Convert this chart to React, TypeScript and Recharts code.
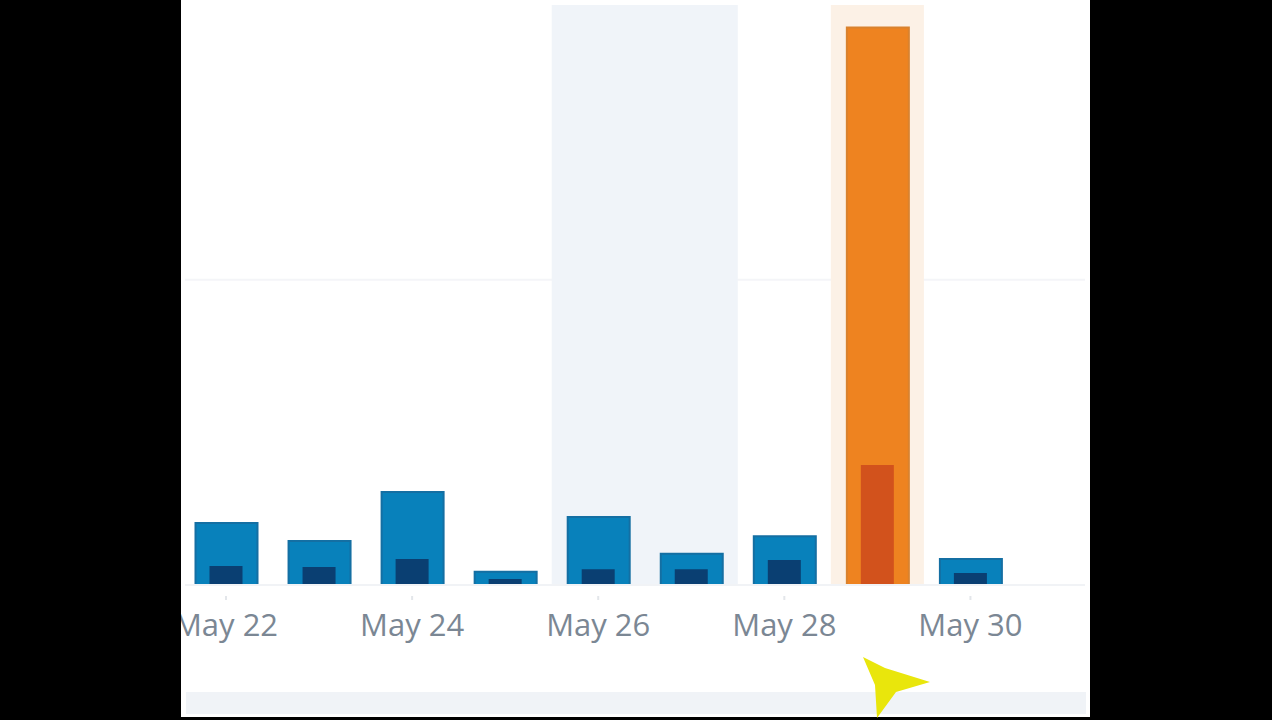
import { BarChart, Bar, Cell, CartesianGrid, ReferenceArea, XAxis, YAxis } from 'recharts'

const days = ['May 22', 'May 23', 'May 24', 'May 25', 'May 26', 'May 27', 'May 28', 'May 29', 'May 30', 'May 31']
const views = [20.3, 14.4, 30.5, 4.3, 22.3, 10.2, 16, 182.6, 8.5, null]
const visitors = [6.2, 5.9, 8.5, 2, 5.2, 5.2, 8.2, 39.3, 3.9, null]
const yTicks = [0, 100]

const rows = days.map((day, i) => ({ day, views: views[i], visitors: visitors[i] }))

const hotDay = 'May 29'

function DayTick({ x, y, payload }: any) {
  return (
    <g>
      <line x1={x} x2={x} y1={y + 3} y2={y + 7} stroke="#e3e6ea" strokeWidth={2} />
      <text
        x={x}
        y={y + 43}
        textAnchor="middle"
        fontFamily="'Open Sans', sans-serif"
        fontSize={31}
        fontWeight={500}
        fill="#7b8794"
      >
        {payload.value}
      </text>
    </g>
  )
}

export default function App() {
  return (
    <div style={{ position: 'absolute', left: 0, top: 0, width: 1272, height: 720, background: '#000', overflow: 'hidden' }}>
      <div style={{ position: 'absolute', left: 181, top: 0, width: 909, height: 717, background: '#fff', overflow: 'hidden' }}>
        <div style={{ position: 'absolute', left: 5, top: 692, width: 900, height: 22, background: '#f0f3f7' }} />
        <div style={{ position: 'absolute', left: -181, top: 0 }}>
          <BarChart
            width={1272}
            height={720}
            data={rows}
            margin={{ left: 185, right: 187, top: 5, bottom: 0 }}
          >
            <CartesianGrid vertical={false} stroke="#f4f5f8" strokeWidth={2} horizontalValues={[100]} />
            <ReferenceArea x1="May 26" x2="May 27" fill="#f0f4f9" fillOpacity={1} stroke="none" />
            <ReferenceArea x1={hotDay} x2={hotDay} fill="#fcf1e6" fillOpacity={1} stroke="none" />
            <XAxis
              dataKey="day"
              interval={1}
              padding={{ left: -5.5, right: -25 }}
              height={135}
              axisLine={{ stroke: '#f1f3f6', strokeWidth: 2 }}
              tickLine={false}
              tick={<DayTick />}
            />
            <XAxis xAxisId="inner" dataKey="day" hide padding={{ left: -5.5, right: -25 }} />
            <YAxis hide domain={[0, 190]} ticks={yTicks} />
            <Bar dataKey="views" barSize={62} fill="#0881bb" stroke="#146fa3" strokeWidth={2} isAnimationActive={false}>
              {rows.map((r) => (
                <Cell
                  key={r.day}
                  fill={r.day === hotDay ? '#ee8320' : '#0881bb'}
                  stroke={r.day === hotDay ? '#d9822e' : '#146fa3'}
                />
              ))}
            </Bar>
            <Bar xAxisId="inner" dataKey="visitors" barSize={33} fill="#0a3f72" isAnimationActive={false}>
              {rows.map((r) => (
                <Cell key={r.day} fill={r.day === hotDay ? '#d2521c' : '#0a3f72'} />
              ))}
            </Bar>
          </BarChart>
        </div>
      </div>
      {/* mouse pointer caught in the screen grab */}
      <svg width={1272} height={720} style={{ position: 'absolute', left: 0, top: 0 }}>
        <polygon points="863,657 885,668 930,682 896,692 877,718 875,685" fill="#e9e60c" />
      </svg>
    </div>
  )
}
